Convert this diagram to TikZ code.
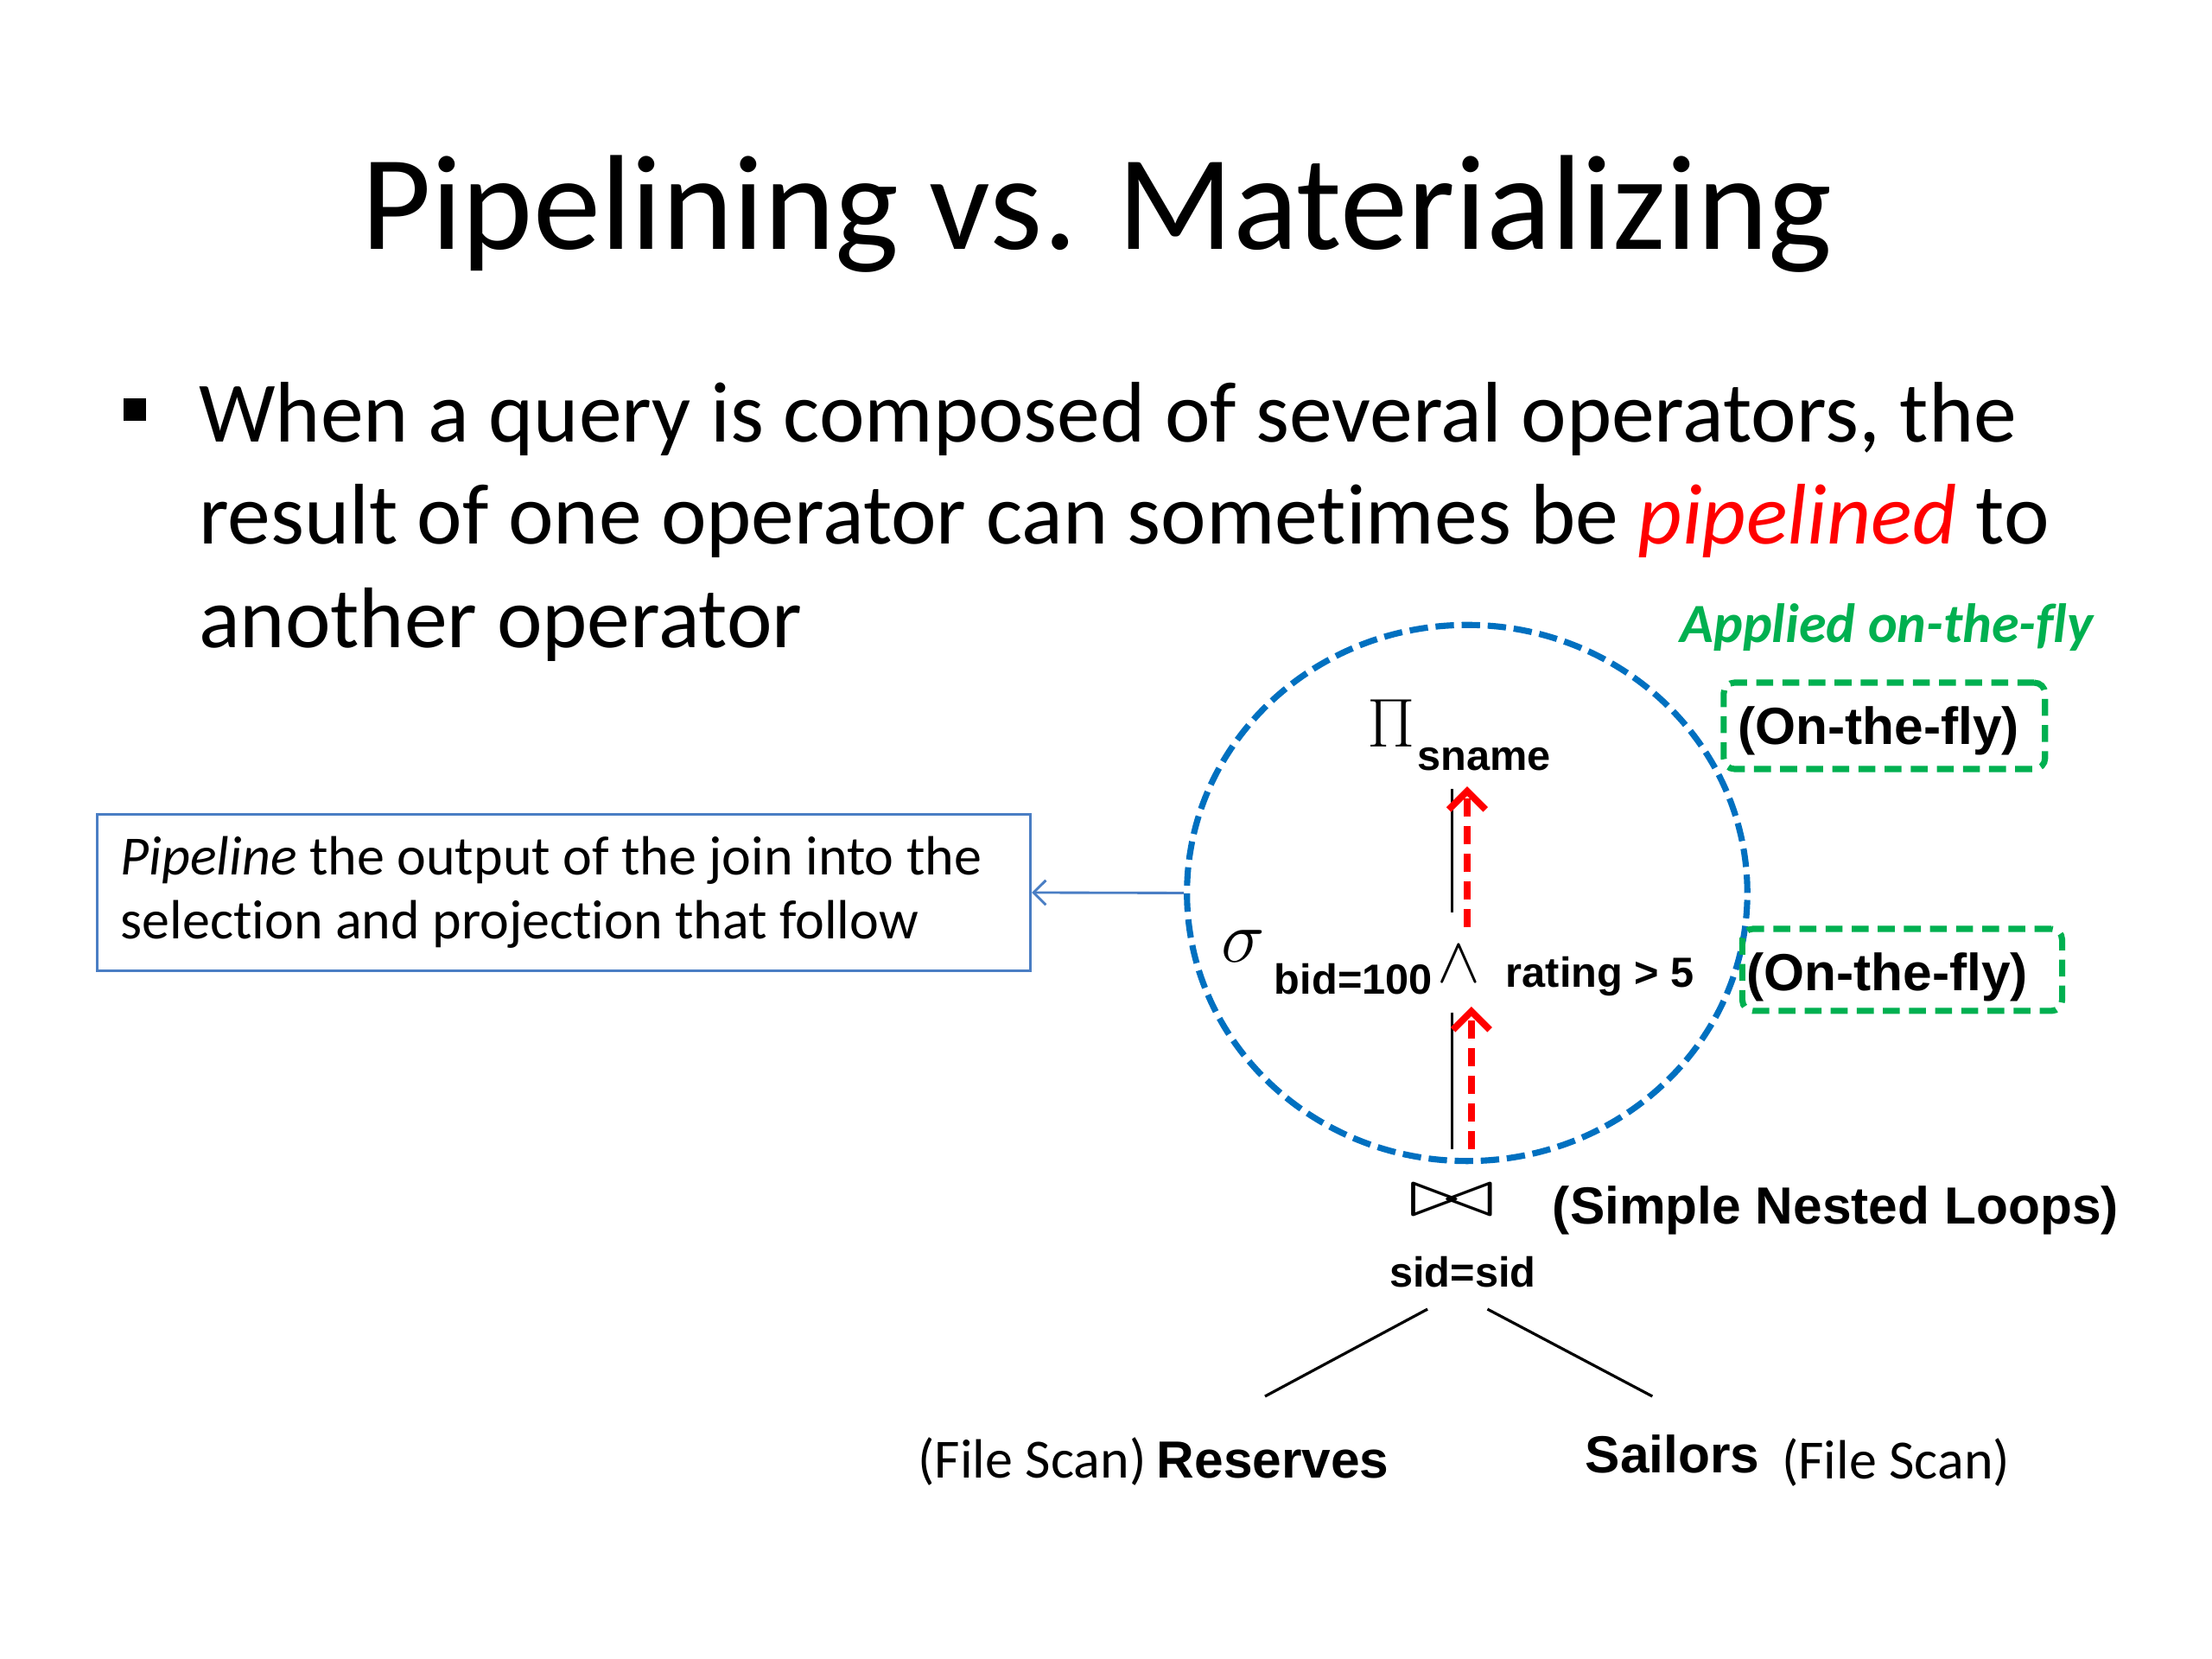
\RequirePackage{fix-cm}
\documentclass[tikz,border=0pt]{standalone}
\usepackage{fontspec}
\usepackage{graphicx}
\setmainfont{Carlito}[Ligatures={TeX,NoCommon}]
\newfontfamily\arialf{Liberation Sans}
\usetikzlibrary{shapes.geometric,arrows.meta}
\definecolor{circblue}{HTML}{0070C0}
\definecolor{boxblue}{HTML}{4A7EC4}
\definecolor{ongreen}{HTML}{00B050}
\definecolor{pipered}{HTML}{FF0000}
\begin{document}
\begin{tikzpicture}[x=0.459184pt, y=-0.459184pt,
  txt/.style={anchor=base west, inner sep=0pt, outer sep=0pt},
  body/.style={txt, font=\fontsize{28}{33.6}\selectfont},
  calltxt/.style={txt, font=\fontsize{18}{21.6}\selectfont},
  lbl/.style={txt, font=\arialf\bfseries\fontsize{17}{20}\selectfont},
  sublbl/.style={txt, font=\arialf\bfseries\fontsize{13.7}{16}\selectfont},
  scanlbl/.style={txt, font=\fontsize{18}{21.6}\selectfont},
  otfbox/.style={draw=ongreen, line width=2pt, dash pattern=on 5.5pt off 3pt, rounded corners=3.5pt, inner sep=0pt},
  pipearrow/.style={draw=pipered, line width=2.2pt, dash pattern=on 6pt off 3pt, -{Straight Barb[length=6pt,width=12pt]}},
  treeline/.style={draw=black, line width=0.9pt}]
\useasboundingbox[fill=white] (0,0) rectangle (1568,1176);

% title
\node[anchor=base, inner sep=0pt, font=\fontsize{44}{52.8}\selectfont] (title) at (777.5,177) {Pipelining vs. Materializing};

% bullet text
\node[fill=black, minimum size=7.3pt, inner sep=0pt] (bullet) at (95.5,290.5) {};
\node[body] (bl1) at (141,313) {When a query is composed of several operators, the};
\node[body] (bl2) at (141,385.6) {result of one operator can sometimes be {\color{pipered}\itshape pipelined} to};
\node[body] (bl3) at (141,459) {another operator};

% green heading
\node[txt, font=\bfseries\itshape\fontsize{18}{21.6}\selectfont, text=ongreen] (applied) at (1191,455.6) {Applied on-the-fly};

% callout box
\node[draw=boxblue, line width=0.8pt, minimum width=303.8pt, minimum height=50.8pt, inner sep=0pt] (callout) at (399.75,632.7) {};
\node[calltxt] (call1) at (85.6,620.3) {{\itshape Pipeline} the output of the join into the};
\node[calltxt] (call2) at (85.6,665.2) {selection and projection that follow};

% pipelined region
\node[ellipse, draw=circblue, line width=2pt, dash pattern=on 6pt off 2.5pt,
      minimum width=182.4pt, minimum height=174.5pt, inner sep=0pt] (pipe) at (1040,633) {};
\draw[boxblue, line width=0.8pt, -{Straight Barb[length=4pt,width=8pt]}] (pipe.west) -- (callout.east);

% on-the-fly boxes
\node[otfbox, minimum width=104.6pt, minimum height=28.1pt] (otfbox1) at (1335.75,514.5) {};
\node[lbl] (otf1) at (1232,527.8) {(On-the-fly)};
\node[otfbox, minimum width=104.1pt, minimum height=26.7pt] (otfbox2) at (1348.4,687.5) {};
\node[lbl] (otf2) at (1238,702.3) {(On-the-fly)};

% projection
\node[txt, font=\fontsize{22.5}{26}\selectfont] (pi) at (969,529.5) {$\Pi$};
\node[sublbl] (sname) at (1004.9,546.1) {sname};

% selection
\node[txt, font=\fontsize{24}{28}\selectfont] (sigma) at (866,682) {$\sigma$};
\node[sublbl] (bid) at (903.4,704.4) {bid=100};
\node[txt, font=\fontsize{21}{25}\selectfont] (wedge) at (1019,696) {$\wedge$};
\node[sublbl] (rating) at (1067.5,699.5) {rating > 5};

% join
\node[inner sep=0pt] (join) at (1029.2,850.8) {\resizebox{28pt}{10.2pt}{$\bowtie$}};
\node[lbl] (snl) at (1100.6,867.3) {(Simple Nested Loops)};
\node[sublbl] (sidsid) at (985,912.6) {sid=sid};

% leaves
\node[scanlbl] (resscan) at (650.8,1047.8) {(File Scan)};
\node[lbl] (reserves) at (820,1047.8) {Reserves};
\node[lbl] (sailors) at (1123.8,1044.3) {Sailors};
\node[scanlbl] (sailscan) at (1263,1048.4) {(File Scan)};

% tree edges
\coordinate (projbot) at (1029.5,559.4);
\coordinate (seltop) at (1029.5,647);
\coordinate (selbot) at (1029.5,717.6);
\coordinate (jointop) at (1029.5,814.6);
\draw[treeline] (projbot) -- (seltop);
\draw[treeline] (selbot) -- (jointop);
\coordinate (jl) at (1011.9,928);
\coordinate (jr) at (1054.4,928);
\coordinate (resup) at (896.7,989.8);
\coordinate (sailup) at (1171.3,989.8);
\draw[treeline] (jl) -- (resup);
\draw[treeline] (jr) -- (sailup);

% pipelining arrows
\coordinate (p1s) at (1040,657.3);
\coordinate (p1e) at (1040,557.4);
\coordinate (p2s) at (1043,814.6);
\coordinate (p2e) at (1043,713.5);
\draw[pipearrow] (p1s) -- (p1e);
\draw[pipearrow] (p2s) -- (p2e);
\end{tikzpicture}
\end{document}
